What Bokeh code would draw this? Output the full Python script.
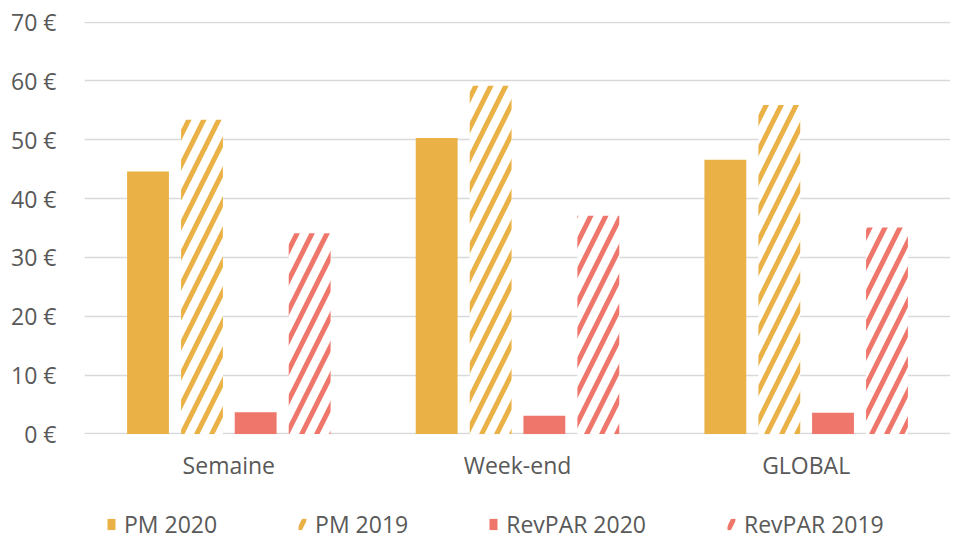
from bokeh.plotting import figure
from bokeh.layouts import column
from bokeh.models import FactorRange, ColumnDataSource, Legend, LegendItem, PrintfTickFormatter, Range1d, FixedTicker
from bokeh.transform import dodge
from bokeh.embed import file_html
from bokeh.resources import INLINE

categories = ["Semaine", "Week-end", "GLOBAL"]
pm_2020 = [44.6, 50.3, 46.6]
pm_2019 = [53.4, 59.2, 55.9]
revpar_2020 = [3.7, 3.1, 3.6]
revpar_2019 = [34.1, 37.1, 35.1]
series_names = ["PM 2020", "PM 2019", "RevPAR 2020", "RevPAR 2019"]
y_ticks = [0, 10, 20, 30, 40, 50, 60, 70]

GOLD = "#EAB246"
RED = "#EE766A"
TXT = "#595959"
FONT = "Open Sans"
FS = "23px"

src = ColumnDataSource(dict(cat=categories, pm20=pm_2020, pm19=pm_2019, rv20=revpar_2020, rv19=revpar_2019))

# style of each series: (column, offset, fill, hatch)
styles = [("pm20", -0.28, GOLD, None), ("pm19", -0.093, "white", GOLD),
          ("rv20", 0.093, RED, None), ("rv19", 0.28, "white", RED)]

p = figure(x_range=FactorRange(*categories), y_range=Range1d(-0.1, 70.1),
           frame_width=866, frame_height=413, output_backend="svg", toolbar_location=None)
p.min_border_left = 84
p.min_border_right = 0
p.min_border_top = 21
p.min_border_bottom = 70

w = 0.145
for col, off, fill, hatch in styles:
    kw = dict(hatch_pattern="right_diagonal_line", hatch_color=hatch, hatch_weight=5, hatch_scale=30) if hatch else {}
    p.vbar(x=dodge("cat", off, range=p.x_range), top=col, width=w, source=src,
           fill_color=fill, line_color=None, **kw)

p.yaxis.ticker = FixedTicker(ticks=y_ticks)
p.yaxis.formatter = PrintfTickFormatter(format="%d €")
for ax in (p.xaxis[0], p.yaxis[0]):
    ax.axis_line_color = None
    ax.major_tick_line_color = None
    ax.minor_tick_line_color = None
    ax.major_label_text_font = FONT
    ax.major_label_text_font_size = FS
    ax.major_label_text_color = TXT
p.yaxis.major_label_standoff = 22
p.xaxis.major_label_standoff = 8
p.xgrid.grid_line_color = None
p.ygrid.grid_line_color = "#D9D9D9"
p.ygrid.grid_line_width = 1.5
p.outline_line_color = None

# legend strip below the chart (its bars lie outside its y range, only the legend shows)
lg = figure(width=950, height=33, x_range=FactorRange(*categories), y_range=Range1d(100, 101),
            output_backend="svg", toolbar_location=None,
            x_axis_type=None, y_axis_type=None, min_border=0)
lg.grid.visible = False
lg.outline_line_color = None
items = []
for name, (col, off, fill, hatch) in zip(series_names, styles):
    kw = dict(hatch_pattern="right_diagonal_line", hatch_color=hatch, hatch_weight=5, hatch_scale=30) if hatch else {}
    r = lg.vbar(x=dodge("cat", off, range=lg.x_range), top=col, width=w, source=src,
                fill_color=fill, line_color=None, **kw)
    items.append(LegendItem(label=name, renderers=[r]))

legend = Legend(items=items, orientation="horizontal", location=(22, -3))
legend.label_text_font = FONT
legend.label_text_font_size = FS
legend.label_text_color = TXT
legend.glyph_width = 10
legend.glyph_height = 14
legend.spacing = 80
legend.label_standoff = 8
legend.padding = 0
legend.margin = 0
legend.border_line_color = None
legend.background_fill_alpha = 0
lg.add_layout(legend, "center")

open("out.html", "w").write(file_html(column(p, lg, spacing=0), INLINE))
